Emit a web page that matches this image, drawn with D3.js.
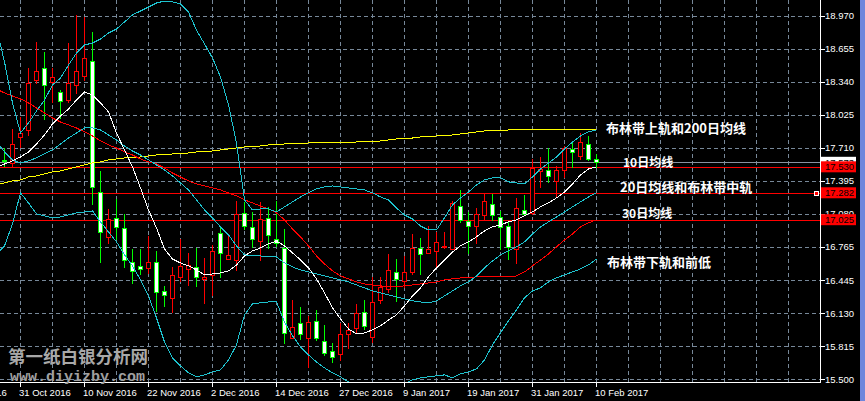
<!DOCTYPE html>
<html><head><meta charset="utf-8">
<script src="https://cdn.jsdelivr.net/npm/d3@7"></script>
<style>
html,body{margin:0;padding:0;background:#000;}
svg{display:block;}
</style></head><body>
<svg id="c" width="865" height="401"></svg>
<script>
// ---------- DATA ----------
const dates = ["2016-10-27","2016-10-28","2016-10-31","2016-11-01","2016-11-02","2016-11-03","2016-11-04","2016-11-07","2016-11-08","2016-11-09","2016-11-10","2016-11-11","2016-11-14","2016-11-15","2016-11-16","2016-11-17","2016-11-18","2016-11-21","2016-11-22","2016-11-23","2016-11-24","2016-11-25","2016-11-28","2016-11-29","2016-11-30","2016-12-01","2016-12-02","2016-12-05","2016-12-06","2016-12-07","2016-12-08","2016-12-09","2016-12-12","2016-12-13","2016-12-14","2016-12-15","2016-12-16","2016-12-19","2016-12-20","2016-12-21","2016-12-22","2016-12-23","2016-12-27","2016-12-28","2016-12-29","2016-12-30","2017-01-03","2017-01-04","2017-01-05","2017-01-06","2017-01-09","2017-01-10","2017-01-11","2017-01-12","2017-01-13","2017-01-16","2017-01-17","2017-01-18","2017-01-19","2017-01-20","2017-01-23","2017-01-24","2017-01-25","2017-01-26","2017-01-27","2017-01-30","2017-01-31","2017-02-01","2017-02-02","2017-02-03","2017-02-06","2017-02-07","2017-02-08","2017-02-09","2017-02-10"];
const open  = [17.591,17.567,17.815,17.882,18.359,18.474,18.340,18.245,18.168,18.311,18.397,18.540,17.293,16.860,17.042,16.946,16.622,16.584,16.565,16.622,16.345,16.278,16.479,16.555,16.574,16.457,16.498,16.899,16.650,16.641,17.090,16.956,16.822,17.042,16.841,16.756,15.896,16.040,15.896,16.059,15.868,15.772,15.744,15.935,15.992,16.145,15.906,16.259,16.364,16.526,16.440,16.526,16.755,16.708,16.727,16.765,16.746,17.156,17.013,16.965,17.070,17.175,17.051,16.965,16.746,17.118,17.090,17.490,17.500,17.395,17.500,17.700,17.634,17.748,17.605];
const high  = [17.710,17.891,18.006,18.474,18.722,18.626,18.474,18.264,18.712,18.980,18.960,18.817,17.490,17.128,17.223,17.080,16.746,16.746,16.870,16.727,16.393,16.574,16.841,16.708,16.755,16.660,16.784,16.965,16.870,17.204,17.195,17.099,17.195,17.147,17.204,16.937,16.259,16.192,16.106,16.164,16.020,15.849,16.040,16.040,16.221,16.259,16.479,16.479,16.698,16.650,16.679,16.889,16.851,16.965,16.908,16.908,17.204,17.309,17.099,17.137,17.271,17.271,17.109,17.004,17.233,17.261,17.605,17.624,17.710,17.538,17.729,17.777,17.853,17.825,17.653];
const low   = [17.538,17.529,17.720,17.834,18.330,17.987,18.149,17.996,18.149,18.235,18.359,17.175,16.625,16.806,16.841,16.574,16.421,16.507,16.517,16.154,16.202,16.145,16.440,16.402,16.393,16.233,16.307,16.479,16.650,16.545,16.937,16.765,16.641,16.755,16.775,15.849,15.896,15.887,15.620,15.877,15.734,15.667,15.686,15.801,15.954,15.982,15.858,16.230,16.335,16.250,16.383,16.507,16.507,16.708,16.565,16.755,16.746,17.004,16.708,16.803,17.023,17.023,16.746,16.650,16.612,17.070,17.080,17.338,17.385,17.242,17.433,17.529,17.605,17.595,17.529];
const close = [17.581,17.748,17.853,18.330,18.445,18.311,18.388,18.159,18.330,18.445,18.569,17.338,16.911,17.032,16.956,16.641,16.536,16.555,16.622,16.335,16.307,16.498,16.584,16.593,16.479,16.481,16.727,16.708,16.689,17.080,16.965,16.841,17.032,16.879,16.803,15.944,16.001,15.935,16.049,15.896,15.753,15.715,15.935,15.973,16.135,16.011,16.240,16.383,16.545,16.460,16.526,16.755,16.698,16.746,16.813,16.775,17.185,17.023,16.965,17.080,17.204,17.070,16.956,16.765,17.137,17.080,17.519,17.510,17.443,17.500,17.710,17.672,17.767,17.605,17.573];

// indicator lines: one value per bar, starting one bar earlier (2016-10-26)
const ma10 = [17.529,17.557,17.586,17.624,17.672,17.748,17.834,17.939,18.015,18.082,18.168,18.245,18.216,18.140,18.054,17.853,17.691,17.529,17.328,17.118,16.946,16.746,16.650,16.612,16.584,16.545,16.498,16.507,16.517,16.536,16.593,16.679,16.727,16.755,16.794,16.822,16.775,16.708,16.641,16.565,16.460,16.326,16.183,16.078,15.982,15.935,15.944,15.973,16.011,16.068,16.116,16.202,16.297,16.374,16.479,16.565,16.641,16.717,16.775,16.813,16.861,16.918,16.956,16.975,17.004,17.023,17.061,17.099,17.147,17.185,17.233,17.290,17.366,17.452,17.510,17.530];
const bbMid = [17.767,17.672,17.596,17.567,17.586,17.615,17.653,17.691,17.748,17.805,17.853,17.901,17.901,17.882,17.834,17.786,17.729,17.681,17.643,17.596,17.548,17.500,17.443,17.376,17.309,17.214,17.118,17.042,16.956,16.880,16.775,16.689,16.679,16.679,16.670,16.670,16.612,16.574,16.545,16.526,16.507,16.488,16.469,16.450,16.431,16.402,16.374,16.345,16.326,16.307,16.288,16.269,16.250,16.240,16.231,16.250,16.297,16.345,16.393,16.431,16.488,16.565,16.631,16.689,16.727,16.765,16.813,16.889,16.956,17.004,17.051,17.099,17.147,17.195,17.242,17.282];
const bbUpper = [18.855,18.531,18.140,17.853,17.949,18.063,18.168,18.311,18.378,18.502,18.617,18.693,18.712,18.750,18.808,18.846,18.913,18.980,19.018,19.056,19.094,19.113,19.104,19.085,19.008,18.836,18.703,18.569,18.388,18.120,17.758,17.214,17.118,17.128,17.128,17.099,17.147,17.195,17.242,17.281,17.319,17.338,17.347,17.338,17.328,17.319,17.309,17.281,17.242,17.214,17.137,17.070,17.032,16.965,16.927,16.927,17.042,17.166,17.233,17.290,17.357,17.405,17.424,17.424,17.386,17.376,17.366,17.433,17.510,17.567,17.624,17.700,17.767,17.825,17.863,17.882];
const bbLower = [16.698,16.775,16.985,17.281,17.185,17.080,17.061,17.042,17.051,17.070,17.090,17.099,17.109,17.004,16.908,16.813,16.689,16.584,16.450,16.297,16.087,15.858,15.706,15.629,15.562,15.524,15.543,15.572,15.591,15.686,15.830,16.116,16.221,16.231,16.240,16.240,16.049,15.916,15.811,15.734,15.667,15.610,15.562,15.524,15.476,15.448,15.419,15.400,15.400,15.410,15.429,15.457,15.496,15.515,15.524,15.534,15.543,15.515,15.553,15.572,15.600,15.686,15.830,15.944,16.059,16.164,16.278,16.345,16.374,16.431,16.469,16.498,16.526,16.555,16.593,16.650];
const ma30 = [18.273,18.235,18.206,18.178,18.140,18.092,18.044,17.996,17.958,17.930,17.901,17.863,17.825,17.777,17.739,17.710,17.672,17.643,17.605,17.576,17.557,17.519,17.471,17.433,17.395,17.366,17.347,17.328,17.309,17.281,17.252,17.214,17.185,17.156,17.128,17.090,17.023,16.937,16.861,16.775,16.679,16.603,16.536,16.488,16.460,16.431,16.412,16.402,16.393,16.383,16.383,16.393,16.402,16.412,16.421,16.431,16.450,16.460,16.469,16.469,16.479,16.479,16.479,16.479,16.479,16.488,16.526,16.584,16.641,16.698,16.765,16.832,16.889,16.956,16.994,17.025];
const ma200 = [17.357,17.376,17.395,17.405,17.433,17.443,17.462,17.481,17.490,17.510,17.529,17.548,17.567,17.576,17.595,17.605,17.615,17.615,17.624,17.634,17.643,17.643,17.653,17.653,17.662,17.672,17.672,17.681,17.691,17.700,17.710,17.720,17.720,17.729,17.739,17.739,17.748,17.748,17.748,17.758,17.758,17.758,17.758,17.758,17.758,17.767,17.767,17.767,17.777,17.786,17.796,17.805,17.805,17.815,17.815,17.825,17.825,17.834,17.844,17.853,17.863,17.872,17.872,17.872,17.882,17.882,17.882,17.882,17.882,17.882,17.882,17.882,17.887,17.887,17.887,17.891];

const priceTicks = [18.970,18.655,18.340,18.025,17.710,17.395,17.080,16.765,16.445,16.130,15.815,15.500];
const dateTickLabels = ["19 Oct 2016","31 Oct 2016","10 Nov 2016","22 Nov 2016","2 Dec 2016","14 Dec 2016","27 Dec 2016","9 Jan 2017","19 Jan 2017","31 Jan 2017","10 Feb 2017"];
const levelLines = [17.530, 17.282, 17.025];
const bidPrice = 17.573;
const annotationTexts = ["布林带上轨和200日均线","10日均线","20日均线和布林带中轨","30日均线","布林带下轨和前低"];
const watermarkTexts = ["第一纸白银分析网","www.diyizby.com"];

// ---------- CHART ----------
const svg = d3.select("#c");
const W = 865, H = 401, PR = 820.5, PB = 382.5;
const x = d3.scaleLinear().domain([0, 74]).range([4.5, 596.5]);
const y = d3.scaleLinear().domain([15.5, 18.97]).range([379.4, 16]);
const snap = v => Math.round(v) + 0.5;
const axisFont = "'Liberation Sans', Arial, sans-serif";
const cjkFont = "'Noto Sans CJK SC', 'Noto Sans', sans-serif";

svg.append("rect").attr("width", W).attr("height", H).attr("fill", "#000");
svg.append("rect").attr("x", 860).attr("width", 5).attr("height", H).attr("fill", "#6f86dc");

svg.append("defs").append("clipPath").attr("id", "plot")
  .append("rect").attr("width", 820).attr("height", 382);
const plot = svg.append("g").attr("clip-path", "url(#plot)");

// grid
const gridIdx = d3.range(2, 102, 4);
plot.append("g").selectAll("line").data(gridIdx).join("line")
  .attr("x1", d => x(d)).attr("x2", d => x(d)).attr("y1", 0).attr("y2", PB)
  .attr("stroke", "#778899").attr("stroke-dasharray", "4,3").attr("shape-rendering", "crispEdges");
plot.append("g").selectAll("line").data(priceTicks).join("line")
  .attr("x1", 0).attr("x2", PR).attr("y1", d => snap(y(d))).attr("y2", d => snap(y(d)))
  .attr("stroke", "#778899").attr("stroke-dasharray", "4,3").attr("shape-rendering", "crispEdges");

// bid line & level lines
plot.append("line").attr("x1", 0).attr("x2", PR)
  .attr("y1", snap(y(bidPrice))).attr("y2", snap(y(bidPrice)))
  .attr("stroke", "#8893a0").attr("shape-rendering", "crispEdges");
plot.append("g").selectAll("line").data(levelLines).join("line")
  .attr("x1", 0).attr("x2", PR).attr("y1", d => snap(y(d))).attr("y2", d => snap(y(d)))
  .attr("stroke", "#ff0000").attr("shape-rendering", "crispEdges");

// candles
const bars = dates.map((d, i) => ({i, o: open[i], h: high[i], l: low[i], c: close[i]}));
const bull = d => d.c >= d.o;
const cg = plot.append("g").attr("shape-rendering", "crispEdges");
cg.selectAll("line").data(bars).join("line")
  .attr("x1", d => x(d.i)).attr("x2", d => x(d.i))
  .attr("y1", d => Math.round(y(d.h))).attr("y2", d => Math.round(y(d.l)) + 1)
  .attr("stroke", d => bull(d) ? "#ff0000" : "#00ff00");
cg.selectAll("path").data(bars).join("path")
  .attr("d", d => {
    const t = Math.round(y(Math.max(d.o, d.c))) + 0.5;
    const b = Math.round(y(Math.min(d.o, d.c))) + 0.5;
    const cx = x(d.i);
    return `M${cx - 2},${t}H${cx + 2}V${b}H${cx - 2}Z`;
  })
  .attr("fill", d => bull(d) ? "#000" : "#fff")
  .attr("stroke", d => bull(d) ? "#ff0000" : "#00ff00");

// indicator lines
const line = d3.line().x((d, i) => x(i - 1)).y(d => y(d));
const series = [
  {v: ma200, c: "#ffff00"},
  {v: ma30, c: "#ff0000"},
  {v: bbUpper, c: "#1ec3cf"},
  {v: bbLower, c: "#1ec3cf"},
  {v: bbMid, c: "#1ec3cf"},
  {v: ma10, c: "#ffffff"}
];
plot.append("g").selectAll("path").data(series).join("path")
  .attr("d", d => line(d.v)).attr("fill", "none").attr("stroke", d => d.c)
  .attr("stroke-width", 1).attr("shape-rendering", "crispEdges");

// axes
svg.append("line").attr("x1", PR).attr("x2", PR).attr("y1", 0).attr("y2", PB + 0.5)
  .attr("stroke", "#fff").attr("shape-rendering", "crispEdges");
svg.append("line").attr("x1", 0).attr("x2", PR).attr("y1", PB).attr("y2", PB)
  .attr("stroke", "#fff").attr("shape-rendering", "crispEdges");

const ra = svg.append("g");
ra.selectAll("line").data(priceTicks).join("line")
  .attr("x1", PR).attr("x2", PR + 4).attr("y1", d => snap(y(d))).attr("y2", d => snap(y(d)))
  .attr("stroke", "#fff").attr("shape-rendering", "crispEdges");
ra.selectAll("text").data(priceTicks).join("text")
  .attr("x", 825).attr("y", d => y(d)).attr("dy", "0.36em")
  .attr("fill", "#fff").attr("font-family", axisFont).attr("font-size", "9.5px")
  .text(d => d.toFixed(3));

const dateIdx = dateTickLabels.map((s, k) => -6 + 8 * k);
const ba = svg.append("g");
ba.selectAll("line").data(dateIdx).join("line")
  .attr("x1", d => x(d)).attr("x2", d => x(d)).attr("y1", PB).attr("y2", PB + 4)
  .attr("stroke", "#fff").attr("shape-rendering", "crispEdges");
ba.selectAll("text").data(dateTickLabels).join("text")
  .attr("x", (d, k) => x(dateIdx[k]) - 1.5).attr("y", 395.5)
  .attr("fill", "#fff").attr("font-family", axisFont).attr("font-size", "9.5px")
  .text(d => d);

// price boxes
function priceBox(v, bg) {
  const g = svg.append("g");
  g.append("rect").attr("x", 821).attr("y", y(v) - 5.5).attr("width", 35).attr("height", 11).attr("fill", bg);
  g.append("text").attr("x", 825).attr("y", y(v)).attr("dy", "0.36em")
    .attr("fill", "#000").attr("font-family", axisFont).attr("font-size", "9.5px").text(v.toFixed(3));
}
priceBox(bidPrice, "#ffffff");
levelLines.forEach(v => priceBox(v, "#ff0000"));
svg.append("rect").attr("x", 814.5).attr("y", snap(y(levelLines[1])) - 2.5).attr("width", 4).attr("height", 4)
  .attr("fill", "#ff0000").attr("stroke", "#fff").attr("shape-rendering", "crispEdges");

// annotations anchored to the last value of each line
const lastX = x(74);
const ann = [
  {t: annotationTexts[0], dx: 9.5, yy: y(bbUpper[75]) - 2, fs: 13},
  {t: annotationTexts[1], dx: 26.5, yy: y(ma10[75]) - 5.5, fs: 12},
  {t: annotationTexts[2], dx: 23.5, yy: y(bbMid[75]) - 6.5, fs: 13},
  {t: annotationTexts[3], dx: 25.5, yy: y(ma30[75]) - 7.5, fs: 12},
  {t: annotationTexts[4], dx: 10.5, yy: y(bbLower[75]) + 3, fs: 13}
];
svg.append("g").selectAll("text").data(ann).join("text")
  .attr("x", d => lastX + d.dx).attr("y", d => d.yy).attr("dominant-baseline", "central")
  .attr("fill", "#fff").attr("font-family", cjkFont).attr("font-weight", "bold")
  .attr("font-size", d => d.fs + "px").text(d => d.t);

// watermark
svg.append("text").attr("x", 8).attr("y", 355.5).attr("dominant-baseline", "central")
  .attr("fill", "#a8a8a8").attr("font-family", cjkFont).attr("font-weight", "bold").attr("font-size", "17.5px")
  .text(watermarkTexts[0]);
svg.append("text").attr("x", 10).attr("y", 381)
  .attr("fill", "#a0a0a0").attr("font-family", "'Liberation Mono', 'Courier New', monospace")
  .attr("font-weight", "bold").attr("font-size", "15px")
  .text(watermarkTexts[1]);
</script>
</body></html>
